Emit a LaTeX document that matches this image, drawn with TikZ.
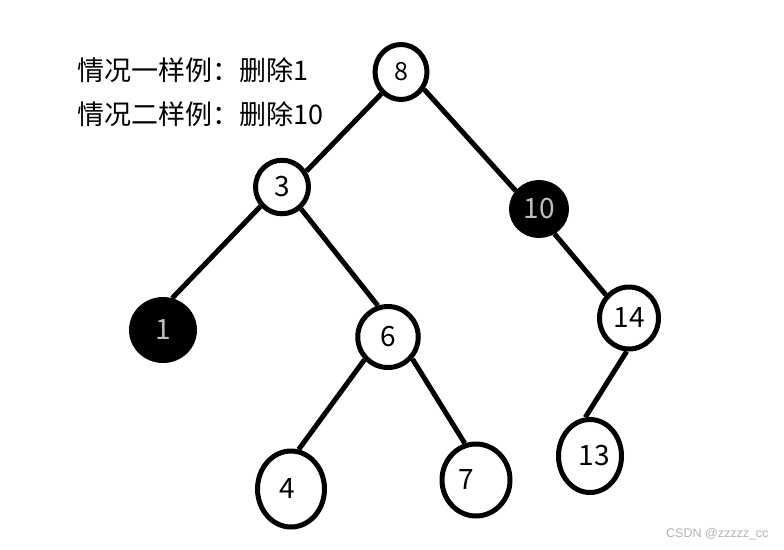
\documentclass[tikz,border=0pt]{standalone}
\usepackage{fontspec}
\setmainfont{Noto Sans CJK SC}
\newfontfamily\wmfont{Liberation Sans}
\usetikzlibrary{shapes.geometric}
\definecolor{numgray}{gray}{0.75}
\tikzset{
  tnode/.style={ellipse, draw=black, line width=5pt, inner sep=0pt, fill=white,
    font=\fontsize{28}{30}\selectfont},
  bnode/.style={tnode, fill=black, text=numgray},
  edge/.style={line width=5pt},
  caption/.style={anchor=west, inner sep=0pt, font=\fontsize{27}{32}\selectfont},
}
\begin{document}
\begin{tikzpicture}[x=1pt, y=-1pt]
\useasboundingbox (0,0) rectangle (784,549);
\node[tnode, minimum width=52pt, minimum height=55pt, font=\fontsize{25}{30}\selectfont] (n8) at (401,72) {8};
\node[tnode, minimum width=53pt, minimum height=53.5pt] (n3) at (282,187) {3};
\node[bnode, minimum width=55pt, minimum height=53pt] (n10) at (539,209) {10};
\node[bnode, minimum width=63pt, minimum height=61pt] (n1) at (163,330) {1};
\node[tnode, minimum width=60.5pt, minimum height=61pt] (n6) at (388,337) {\raisebox{-3pt}{6}};
\node[tnode, minimum width=59pt, minimum height=62pt] (n14) at (629,318) {14};
\node[tnode, minimum width=67pt, minimum height=76pt] (n4) at (291,489) {\hspace*{-8pt}4};
\node[tnode, minimum width=68pt, minimum height=72pt] (n7) at (476,480) {\hspace*{-20pt}7};
\node[tnode, minimum width=63pt, minimum height=73pt] (n13) at (590,456) {13\hspace*{-8pt}};

\draw[edge] (n8.-132.6) -- (n3.33.1);
\draw[edge] (n8.-37.6) -- (n10.142);
\draw[edge] (n3.-138.8) -- (n1.74.7);
\draw[edge] (n3.-49) -- (n6.108);
\draw[edge] (n6.-136) -- (n4.79);
\draw[edge] (n6.-42.5) -- (n7.107);
\draw[edge] (n10.-58.4) -- (n14.135);
\draw[edge] (n14.-94.4) -- (n13.97.5);

\node[caption] (c1) at (77,70) {情况一样例：删除1};
\node[caption] (c2) at (77,114) {情况二样例：删除10};
\node[anchor=west, inner sep=0pt, text=black!30, font=\wmfont\fontsize{12.5}{14}\selectfont] (wm) at (666,534) {CSDN @zzzzz\_cc};
\end{tikzpicture}
\end{document}
